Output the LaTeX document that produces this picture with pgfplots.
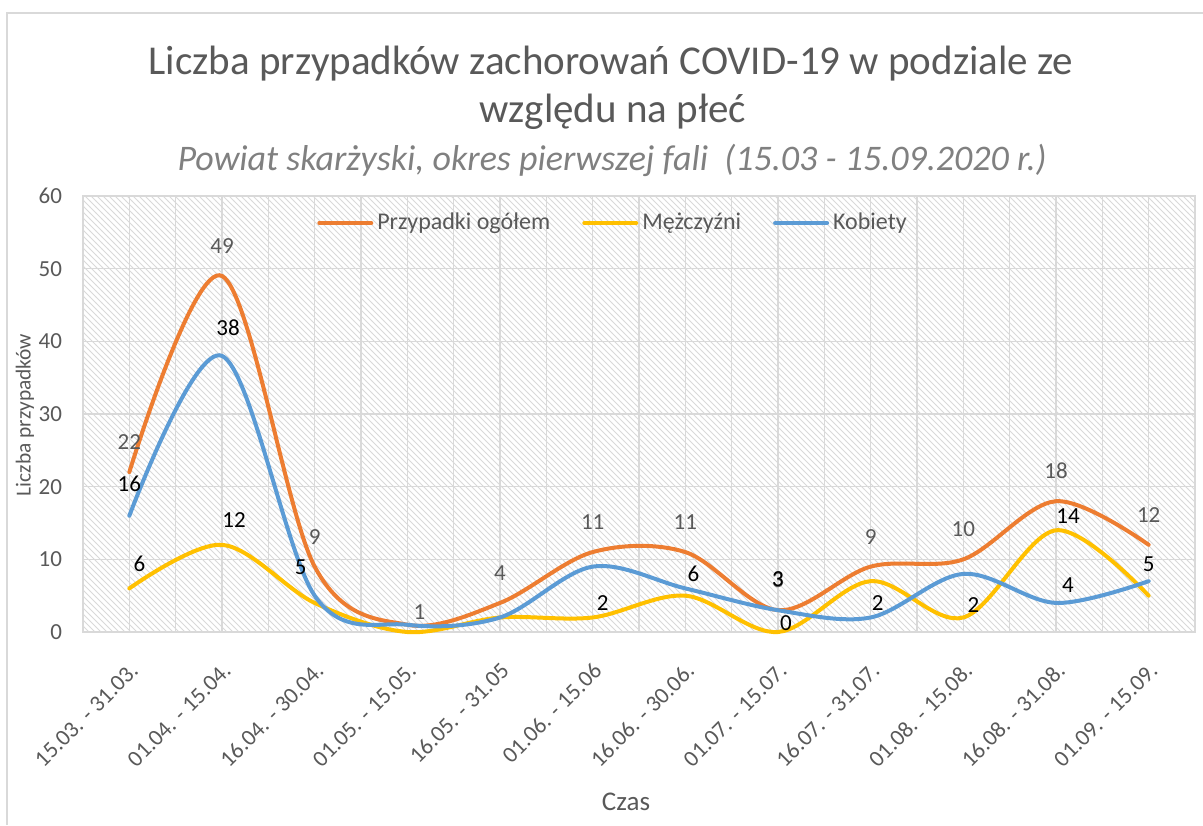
\documentclass[border=0pt]{standalone}
\usepackage{fontspec}
\setmainfont{Carlito}
\usepackage{pgfplots}
\pgfplotsset{compat=1.18}
\usepackage{pgfplotstable}
\usetikzlibrary{patterns}

\definecolor{ogol}{HTML}{ED7D31}
\definecolor{mez}{HTML}{FFC000}
\definecolor{kob}{HTML}{5B9BD5}
\definecolor{txt}{HTML}{595959}
\definecolor{sub}{HTML}{808080}
\definecolor{grd}{HTML}{D9D9D9}

\pgfplotsset{/pgf/number format/assume math mode=true}

% x y, label text, label shift (pt)
\pgfplotstableread{
x y lab dx dy
0 22 22 0 15
1 49 49 0 15
2 9 9 0 15
3 1 1 6 6.5
4 4 4 0 15
5 11 11 0 15
6 11 11 0 15
7 3 3 0 15
8 9 9 0 15
9 10 10 0 15
10 18 18 0 15
11 12 12 0 15
}\ogolem

\pgfplotstableread{
x y lab dx dy
0 6 6 5 12.5
1 12 12 6 12.5
2 4 {} 0 0
3 0 {} 0 0
4 2 {} 0 0
5 2 2 5 7
6 5 {} 0 0
7 0 0 4 4.5
8 7 {} 0 0
9 2 2 5 6
10 14 14 6 7
11 5 5 0 15.5
}\mezczyzni

\pgfplotstableread{
x y lab dx dy
0 16 16 0 16
1 38 38 3 14
2 5 5 -7 14
3 1 {} 0 0
4 2 {} 0 0
5 9 {} 0 0
6 6 6 4 7.5
7 3 3 0 15.5
8 2 2 3.5 7
9 8 {} 0 0
10 4 4 6 9
11 7 {} 0 0
}\kobiety

\pgfplotsset{
  serie/.style={line width=2pt, smooth, tension=0.55, line cap=round, mark=none,
    nodes near coords,
    point meta=explicit symbolic,
    visualization depends on={\thisrow{dx}\as\dx},
    visualization depends on={\thisrow{dy}\as\dy},
    every node near coord/.append style={anchor=center, xshift=\dx pt, yshift=\dy pt,
      font=\fontsize{11.5}{13}\selectfont, text=#1}},
}

\begin{document}
\begin{tikzpicture}
\useasboundingbox (0,0) rectangle (601.5pt,-412.5pt);
\draw[grd, line width=0.8pt] (3.5pt,-412.5pt) -- (3.5pt,-6.5pt) -- (601.5pt,-6.5pt);

\node[anchor=base, text=txt, font=\fontsize{20.5}{24}\selectfont] at (305.5pt,-37pt)
  {Liczba przypadków zachorowań COVID-19 w podziale ze};
\node[anchor=base, text=txt, font=\fontsize{20.5}{24}\selectfont] at (306.5pt,-61pt)
  {względu na płeć};
\node[anchor=base, text=sub, font=\itshape\fontsize{18}{22}\selectfont] at (306pt,-85pt)
  {Powiat skarżyski, okres pierwszej fali\ \ (15.03 - 15.09.2020 r.)};

\begin{axis}[
  at={(41.5pt,-316pt)}, anchor=south west,
  scale only axis, width=556pt, height=218pt,
  xmin=-0.5, xmax=11.5, ymin=0, ymax=60,
  xtick={0,...,11},
  xticklabels={15.03. - 31.03., 01.04. - 15.04., 16.04. - 30.04., 01.05. - 15.05.,
    16.05. - 31.05, 01.06. - 15.06, 16.06. - 30.06., 01.07. - 15.07.,
    16.07. - 31.07., 01.08. - 15.08., 16.08. - 31.08., 01.09. - 15.09.},
  minor xtick={-0.5,0.5,...,11.5},
  ytick={0,10,...,60},
  xmajorgrids, xminorgrids, ymajorgrids,
  grid style={grd, line width=0.6pt},
  minor grid style={grd, line width=0.6pt},
  major tick length=0, minor tick length=0,
  axis line style={grd, line width=0.8pt},
  tick label style={text=txt, font=\fontsize{11.5}{13}\selectfont},
  xticklabel style={xshift=5pt, rotate=45, anchor=east},
  xticklabel shift=15pt,
  yticklabel style={xshift=-7pt},
  axis background/.style={pattern=north west lines, pattern color=black!15},
  clip=false,
  legend columns=3,
  legend style={at={(0.4775,0.938)}, anchor=center, draw=none, fill=none,
    font=\fontsize{12}{14}\selectfont, text=txt,
    /tikz/every even column/.append style={column sep=14pt}},
  legend image code/.code={\draw[#1, line cap=round] (0pt,0pt) -- (26pt,0pt);},
]
\addplot[serie=txt, ogol] table[x=x, y=y, meta=lab] {\ogolem};
\addlegendentry{Przypadki ogółem}
\addplot[serie=black, mez] table[x=x, y=y, meta=lab] {\mezczyzni};
\addlegendentry{Mężczyźni}
\addplot[serie=black, kob] table[x=x, y=y, meta=lab] {\kobiety};
\addlegendentry{Kobiety}
\end{axis}

\node[rotate=90, text=txt, font=\fontsize{10.7}{12}\selectfont] at (12.5pt,-207.5pt)
  {Liczba przypadków};
\node[anchor=base, text=txt, font=\fontsize{13.5}{16}\selectfont] at (313pt,-405pt) {Czas};
\end{tikzpicture}
\end{document}
